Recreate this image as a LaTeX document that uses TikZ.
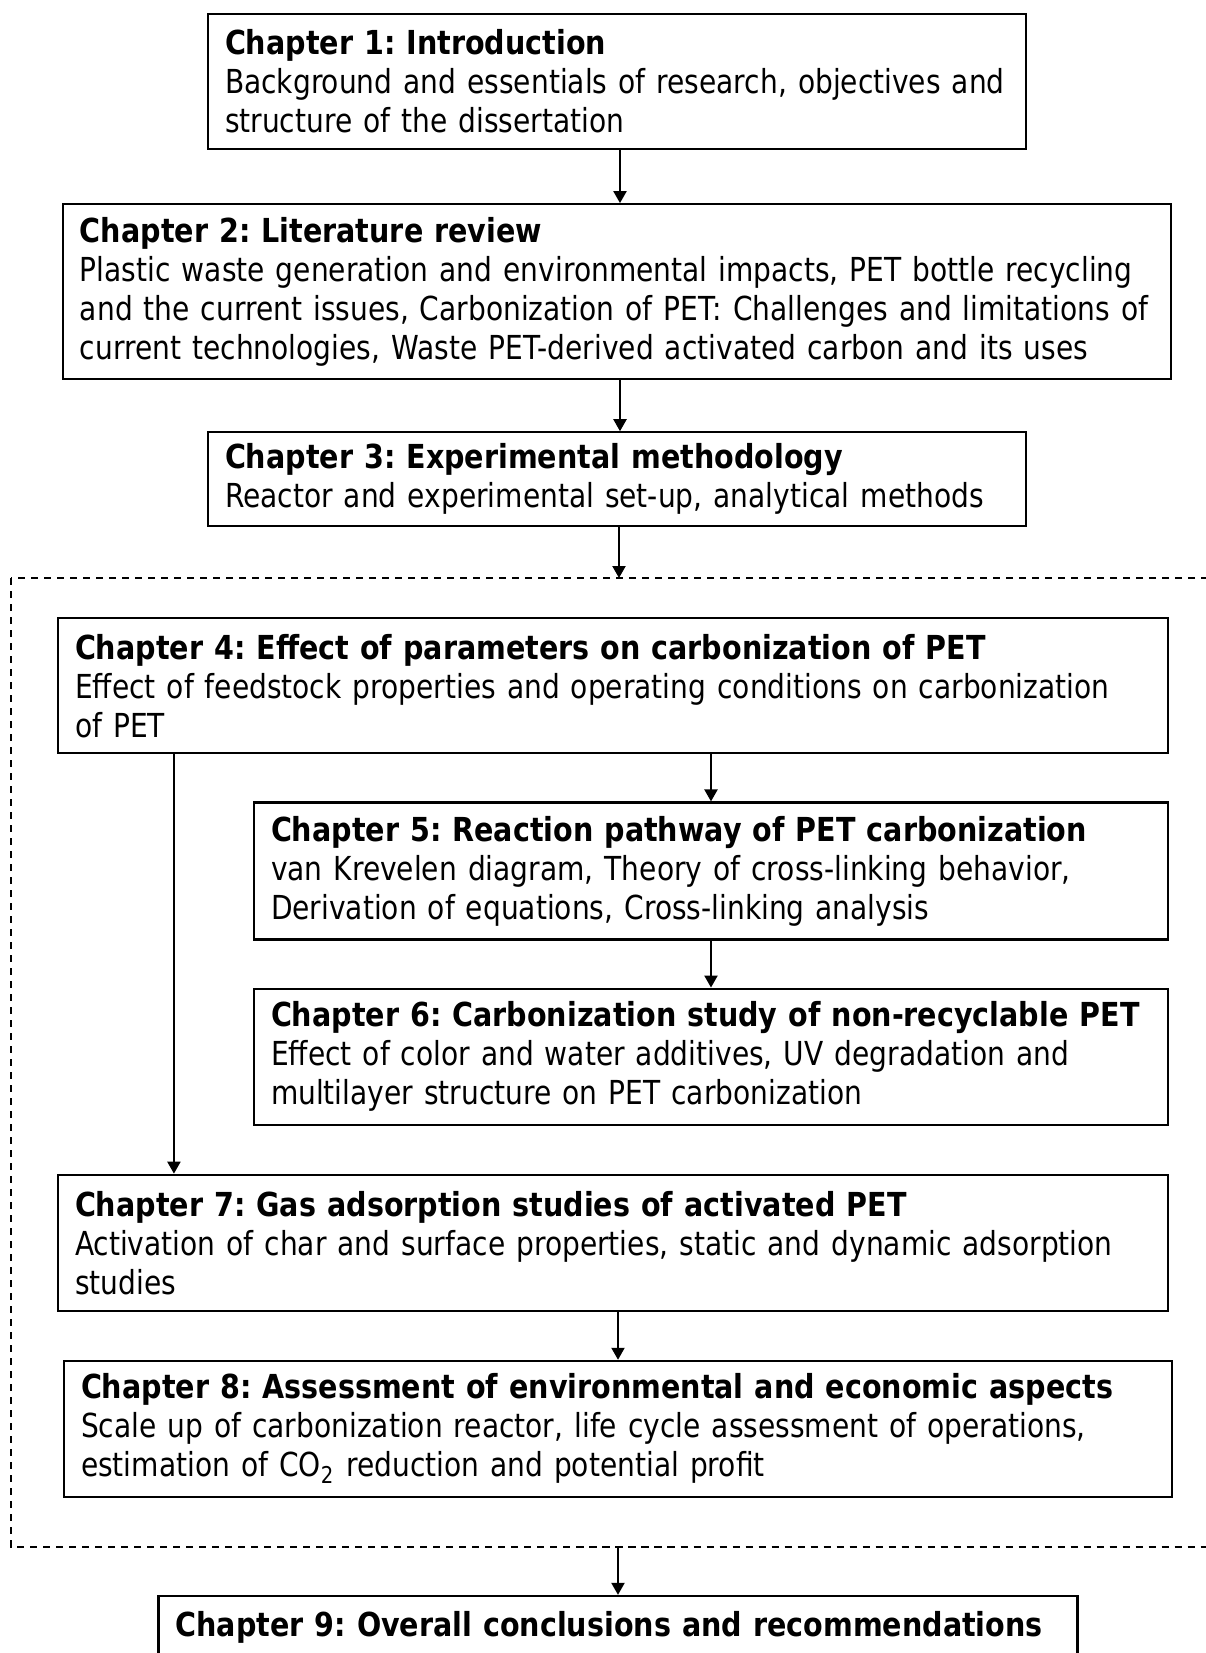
\documentclass[tikz,border=0pt]{standalone}
\usepackage{fontspec}
\setmainfont{DejaVu Sans}[FakeStretch=0.85, BoldFeatures={FakeStretch=0.865}]
\usepackage{tikz}
\usetikzlibrary{arrows.meta, positioning}
\frenchspacing
\hyphenpenalty=10000

\begin{document}
\begin{tikzpicture}[
  node distance=0.5cm,
  box/.style={rectangle, draw, line width=0.6pt, fill=white, minimum width=11.1cm, minimum height=1.35cm,
    inner xsep=0.17cm, inner ysep=0.1cm, align=left, font=\fontsize{9.4pt}{11.1pt}\selectfont},
  arrow/.style={-{Triangle[length=0.12cm, width=0.13cm]}, line width=0.6pt},
  frame/.style={dashed, dash pattern=on 2pt off 1.7pt, line width=0.6pt}
]
\useasboundingbox (0,0) rectangle (12.06,-16.53);

% Chapters 1-3
\node[box, anchor=north, minimum width=8.18cm, text width=7.84cm] (ch1) at (6.17,-0.13)
  {\textbf{Chapter 1: Introduction}\\Background and essentials of research, objectives and\\structure of the dissertation};
\node[box, below=0.53cm of ch1, minimum width=11.08cm, text width=10.74cm, minimum height=1.75cm] (ch2)
  {\textbf{Chapter 2: Literature review}\\Plastic waste generation and environmental impacts, PET bottle recycling\\and the current issues, Carbonization of PET: Challenges and limitations of\\current technologies, Waste PET-derived activated carbon and its uses};
\node[box, below=0.51cm of ch2, minimum width=8.18cm, text width=7.84cm, minimum height=0.94cm] (ch3)
  {\textbf{Chapter 3: Experimental methodology}\\Reactor and experimental set-up, analytical methods};

% Dashed frame (runs off the right edge)
\coordinate (frametl) at (0.11,-5.78);
\coordinate (framebr) at (12.40,-15.47);
\draw[frame] (frametl) rectangle (framebr);

% Chapters 4-8
\node[box, below=0.90cm of ch3, xshift=-0.04cm, text width=10.76cm] (ch4)
  {\textbf{Chapter 4: Effect of parameters on carbonization of PET}\\Effect of feedstock properties and operating conditions on carbonization\\of PET};
\node[box, below=0.47cm of ch4, xshift=0.98cm, minimum width=9.14cm, text width=8.8cm, minimum height=1.37cm] (ch5)
  {\textbf{Chapter 5: Reaction pathway of PET carbonization}\\van Krevelen diagram, Theory of cross-linking behavior,\\Derivation of equations, Cross-linking analysis};
\node[box, below=0.47cm of ch5, minimum width=9.14cm, text width=8.8cm, minimum height=1.36cm] (ch6)
  {\textbf{Chapter 6: Carbonization study of non-recyclable PET}\\Effect of color and water additives, UV degradation and\\multilayer structure on PET carbonization};
\node[box, below=0.48cm of ch6, xshift=-0.98cm, text width=10.76cm, minimum height=1.36cm] (ch7)
  {\textbf{Chapter 7: Gas adsorption studies of activated PET}\\Activation of char and surface properties, static and dynamic adsorption\\studies};
\node[box, below=0.48cm of ch7, xshift=0.05cm, minimum width=11.08cm, text width=10.74cm, minimum height=1.36cm] (ch8)
  {\textbf{Chapter 8: Assessment of environmental and economic aspects}\\Scale up of carbonization reactor, life cycle assessment of operations,\\estimation of CO\textsubscript{2} reduction and potential profit};

% Chapter 9 (cut by the page edge)
\node[box, below=0.97cm of ch8, minimum width=9.19cm, text width=8.85cm] (ch9)
  {\textbf{Chapter 9: Overall conclusions and recommendations}\\\phantom{X}\\\phantom{X}};

% Arrows
\draw[arrow] ([xshift=0.03cm]ch1.south) -- ([xshift=0.03cm]ch1.south |- ch2.north);
\draw[arrow] ([xshift=0.03cm]ch2.south) -- ([xshift=0.03cm]ch2.south |- ch3.north);
\draw[arrow] ([xshift=0.02cm]ch3.south) -- ([xshift=0.02cm]ch3.south |- frametl);
\draw[arrow] (ch4.south -| ch5) -- (ch5.north);
\draw[arrow] (ch5) -- (ch6);
\draw[arrow] ([xshift=1.17cm]ch4.south west) -- ([xshift=1.17cm]ch7.north west);
\draw[arrow] (ch7.south -| ch8) -- (ch8.north);
\draw[arrow] (ch9.north |- framebr) -- (ch9.north);

\end{tikzpicture}
\end{document}
